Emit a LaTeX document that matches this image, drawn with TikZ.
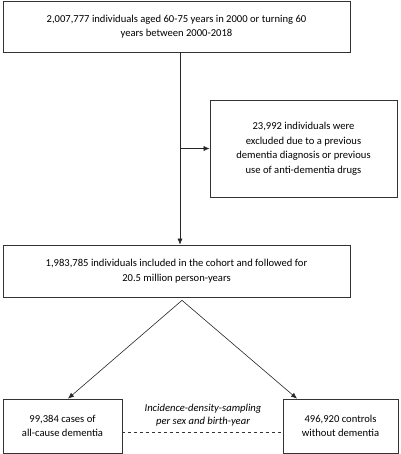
\documentclass[tikz,border=0pt]{standalone}
\usepackage{fontspec}
\setmainfont{Carlito}
\usetikzlibrary{arrows.meta,calc}

\tikzset{
  flowbox/.style={draw=black!80,line width=0.7pt,align=center,inner sep=2pt,
    font=\fontsize{10.6}{14.5}\selectfont},
  arr/.style={draw=black!85,line width=0.6pt,-{Latex[length=6pt,width=5pt]}},
}

\begin{document}
\begin{tikzpicture}[x=1pt,y=-1pt]
\useasboundingbox (0,0) rectangle (400,454);
% boxes
\node[flowbox,minimum width=347pt,minimum height=51pt] (start) at (176.5,26.5)
  {2,007,777 individuals aged 60-75 years in 2000 or turning 60\\years between 2000-2018};
\node[flowbox,minimum width=187pt,minimum height=97pt] (excl) at (303.5,148.5)
  {23,992 individuals were\\excluded due to a previous\\dementia diagnosis or previous\\use of anti-dementia drugs};
\node[flowbox,minimum width=347pt,minimum height=52pt] (cohort) at (176.5,271)
  {1,983,785 individuals included in the cohort and followed for\\20.5 million person-years};
\node[flowbox,minimum width=119pt,minimum height=54pt] (cases) at (62.5,426)
  {99,384 cases of\\all-cause dementia};
\node[flowbox,minimum width=115pt,minimum height=54pt] (ctrl) at (340.5,426)
  {496,920 controls\\without dementia};
% connectors
\coordinate (split) at ($(start.south)+(3.5,0)$);
\draw[arr] (split) -- (split |- cohort.north);
\draw[arr] (split |- excl.west) -- (excl.west);
\coordinate (apex) at ($(cohort.south)+(5.5,3)$);
\draw[arr] (apex) -- ($(cases.north)+(5.5,0)$);
\draw[arr] (apex) -- ($(ctrl.north)+(-43.5,0)$);
\draw[black!80,dashed,line width=0.5pt] ($(cases.east)+(0,6)$) -- ($(ctrl.west)+(0,6)$);
\node[font=\fontsize{10.6}{12.5}\selectfont\itshape,align=center] (idsl) at (203,415)
  {Incidence-density-sampling\\per sex and birth-year};
\end{tikzpicture}
\end{document}
